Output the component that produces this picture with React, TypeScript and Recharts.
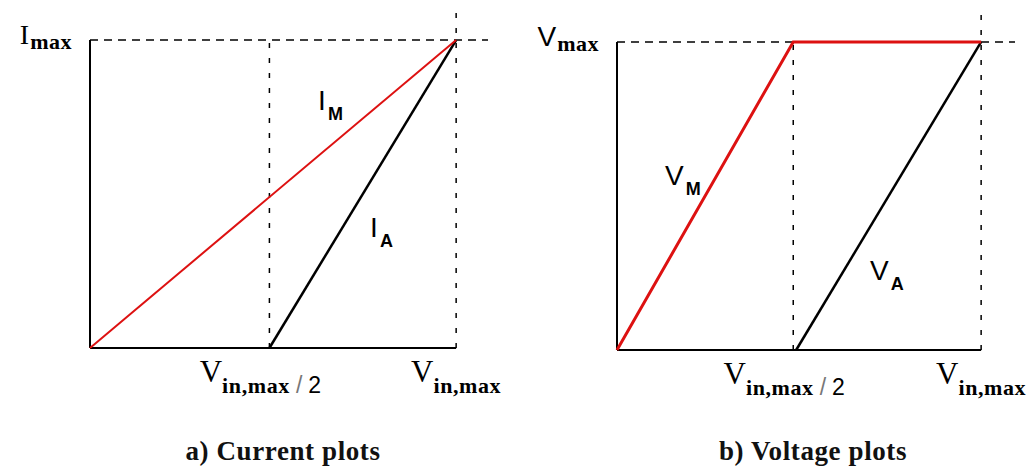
import React from 'react';
import { LineChart, Line, XAxis, YAxis, ReferenceLine, ReferenceDot } from 'recharts';

// a) currents against input voltage, normalised to I_max / V_in,max
const currentM = [{ x: 0, y: 0 }, { x: 1, y: 1 }];
const currentA = [{ x: 0.49, y: 0 }, { x: 1, y: 1 }];
const currentTicks = [0.49, 1];

// b) voltages against input voltage, normalised to V_max / V_in,max
const voltageM = [{ x: 0, y: 0 }, { x: 0.484, y: 1 }, { x: 1, y: 1 }];
const voltageA = [{ x: 0.492, y: 0 }, { x: 1, y: 1 }];
const voltageTicks = [0.484, 1];

const xTickText = ['/ 2', ''];

const currentNames = [
  { x: 0.623, y: 0.773, main: 'I', sub: 'M' },
  { x: 0.765, y: 0.36, main: 'I', sub: 'A' },
];
const voltageNames = [
  { x: 0.132, y: 0.536, main: 'V', sub: 'M' },
  { x: 0.695, y: 0.227, main: 'V', sub: 'A' },
];

const SERIF = '"Liberation Serif", "Times New Roman", serif';
const SANS = '"Liberation Sans", Arial, sans-serif';
const RED = '#dd1111';

const W = 513;
const H = 466;

type PanelProps = {
  m: { x: number; y: number }[];
  a: { x: number; y: number }[];
  ticks: number[];
  names: { x: number; y: number; main: string; sub: string }[];
  yMain: string;
  yMainFont: string;
  yMainSize: number;
  title: string;
  titleCenter: number;
  plotLeft: number;
  plotTop: number;
  plotRight: number;
  plotBottom: number;
  xMax: number;
  yMax: number;
  redWidth: number;
};

function Panel(p: PanelProps) {
  // axes take the space left of and below the plot; CartesianAxis skips zero-sized axes
  const yAxisW = p.plotLeft - 10;
  const xAxisH = 80;
  const margin = { top: p.plotTop, right: W - p.plotRight, bottom: H - p.plotBottom - xAxisH, left: 10 };

  const xTick = (t: any) => {
    const idx = p.ticks.indexOf(t.payload.value);
    const suffix = xTickText[idx] || '';
    return (
      <text x={suffix ? t.x - 9 : t.x} y={p.plotBottom + 34} textAnchor="middle" fill="#000">
        <tspan fontFamily={SERIF} fontSize={31}>V</tspan>
        <tspan fontFamily={SERIF} fontWeight="bold" fontSize={22} letterSpacing={0.6} dy={11}>in,max</tspan>
        {suffix && (
          <tspan fontFamily={SANS} fontSize={23} dx={6} fill="#777">/</tspan>
        )}
        {suffix && (
          <tspan fontFamily={SANS} fontSize={23} dx={6}>2</tspan>
        )}
      </text>
    );
  };

  const yTick = (t: any) => (
    <text x={p.plotLeft - 18} y={t.y + 4} textAnchor="end" fill="#000">
      <tspan fontFamily={p.yMainFont} fontSize={p.yMainSize}>{p.yMain}</tspan>
      <tspan fontFamily={SERIF} fontWeight="bold" fontSize={22} letterSpacing={0.5} dy={5} dx={1}>max</tspan>
    </text>
  );

  const nameShape = (n: { main: string; sub: string }) => (s: any) => (
    <text x={s.cx} y={s.cy} fill="#000" fontFamily={SANS}>
      <tspan fontSize={28}>{n.main}</tspan>
      <tspan fontSize={18} fontWeight="bold" dy={10} dx={2}>{n.sub}</tspan>
    </text>
  );

  return (
    <div style={{ position: 'relative', width: W, height: H }}>
      <LineChart width={W} height={H} margin={margin}>
        <XAxis
          type="number"
          dataKey="x"
          domain={[0, p.xMax]}
          ticks={p.ticks}
          interval={0}
          height={xAxisH}
          axisLine={false}
          tickLine={false}
          tick={xTick}
        />
        <YAxis
          type="number"
          dataKey="y"
          domain={[0, p.yMax]}
          ticks={[1]}
          interval={0}
          width={yAxisW}
          axisLine={false}
          tickLine={false}
          tick={yTick}
        />
        {/* guide lines */}
        <ReferenceLine segment={[{ x: 0, y: 1 }, { x: p.xMax, y: 1 }]} stroke="#000" strokeWidth={1.5} strokeDasharray="8 6" />
        <ReferenceLine segment={[{ x: p.ticks[0], y: 0 }, { x: p.ticks[0], y: 1 }]} stroke="#000" strokeWidth={1.5} strokeDasharray="5 10" />
        <ReferenceLine segment={[{ x: 1, y: 0 }, { x: 1, y: p.yMax }]} stroke="#000" strokeWidth={1.5} strokeDasharray="5 10" />
        {/* axes */}
        <ReferenceLine segment={[{ x: 0, y: 0 }, { x: 0, y: 1 }]} stroke="#000" strokeWidth={2} />
        <ReferenceLine segment={[{ x: 0, y: 0 }, { x: 1, y: 0 }]} stroke="#000" strokeWidth={2} />
        <Line data={p.a} dataKey="y" stroke="#000" strokeWidth={2.5} dot={false} isAnimationActive={false} />
        <Line data={p.m} dataKey="y" stroke={RED} strokeWidth={p.redWidth} dot={false} isAnimationActive={false} />
        {p.names.map((n) => (
          <ReferenceDot key={n.main + n.sub} x={n.x} y={n.y} r={0} shape={nameShape(n)} />
        ))}
      </LineChart>
      <div
        style={{
          position: 'absolute',
          left: p.titleCenter - 150,
          width: 300,
          top: 436,
          textAlign: 'center',
          fontFamily: SERIF,
          fontWeight: 'bold',
          fontSize: 27,
          letterSpacing: 0.6,
          lineHeight: '30px',
          color: '#111',
        }}
      >
        {p.title}
      </div>
    </div>
  );
}

export default function App() {
  return (
    <div style={{ position: 'absolute', left: 0, top: 0, width: 1026, height: 466, background: '#fff', display: 'flex' }}>
      <Panel
        m={currentM}
        a={currentA}
        ticks={currentTicks}
        names={currentNames}
        yMain="I"
        yMainFont={SERIF}
        yMainSize={28}
        title="a) Current plots"
        titleCenter={283}
        plotLeft={90}
        plotTop={8}
        plotRight={488}
        plotBottom={348}
        xMax={1.087}
        yMax={1.104}
        redWidth={2}
      />
      <Panel
        m={voltageM}
        a={voltageA}
        ticks={voltageTicks}
        names={voltageNames}
        yMain="V"
        yMainFont={SANS}
        yMainSize={28}
        title="b) Voltage plots"
        titleCenter={300}
        plotLeft={104}
        plotTop={13}
        plotRight={502}
        plotBottom={350}
        xMax={1.093}
        yMax={1.094}
        redWidth={3}
      />
    </div>
  );
}
